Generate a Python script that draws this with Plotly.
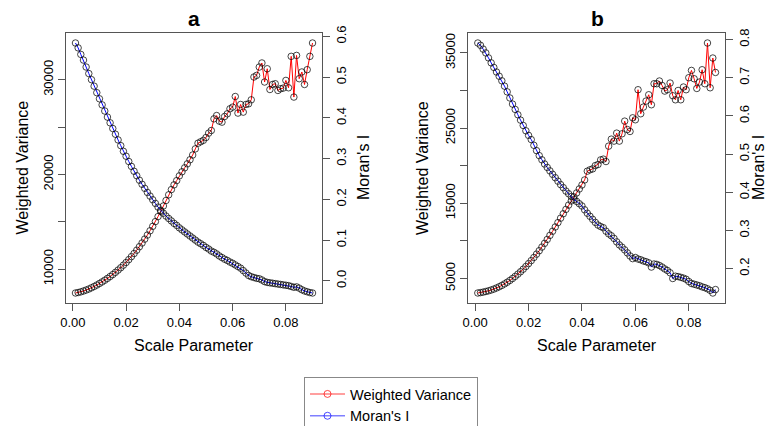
import plotly.graph_objects as go

# ---------------- data ----------------
scale_param = [0.001, 0.002, 0.003, 0.004, 0.005, 0.006, 0.007, 0.008, 0.009, 0.010,
               0.011, 0.012, 0.013, 0.014, 0.015, 0.016, 0.017, 0.018, 0.019, 0.020,
               0.021, 0.022, 0.023, 0.024, 0.025, 0.026, 0.027, 0.028, 0.029, 0.030,
               0.031, 0.032, 0.033, 0.034, 0.035, 0.036, 0.037, 0.038, 0.039, 0.040,
               0.041, 0.042, 0.043, 0.044, 0.045, 0.046, 0.047, 0.048, 0.049, 0.050,
               0.051, 0.052, 0.053, 0.054, 0.055, 0.056, 0.057, 0.058, 0.059, 0.060,
               0.061, 0.062, 0.063, 0.064, 0.065, 0.066, 0.067, 0.068, 0.069, 0.070,
               0.071, 0.072, 0.073, 0.074, 0.075, 0.076, 0.077, 0.078, 0.079, 0.080,
               0.081, 0.082, 0.083, 0.084, 0.085, 0.086, 0.087, 0.088, 0.089, 0.090]

# Panel a
wv_a = [7480, 7530, 7600, 7690, 7790, 7900, 8030, 8170, 8320, 8480,
        8650, 8830, 9020, 9220, 9430, 9660, 9900, 10150, 10420, 10700,
        11000, 11320, 11650, 12000, 12370, 12760, 13170, 13600, 14050, 14520,
        15020, 15550, 16100, 16670, 17250, 17850, 18400, 18900, 19350, 19850,
        20280, 20700, 21120, 21550, 22050, 22700, 23300, 23450, 23600, 23900,
        24360, 24640, 25870, 26220, 25630, 25520, 26120, 26400, 26930, 27110,
        28230, 26480, 27390, 26580, 27390, 27460, 27880, 30290, 30460, 31340,
        31770, 29760, 31160, 28970, 29500, 29580, 28870, 29050, 29120, 29930,
        29150, 32470, 28170, 32570, 30110, 30820, 29500, 31060, 32470, 33880]

mi_a = [0.584, 0.572, 0.556, 0.542, 0.525, 0.509, 0.494, 0.478, 0.462, 0.447,
        0.432, 0.417, 0.402, 0.388, 0.374, 0.360, 0.346, 0.332, 0.318, 0.306,
        0.293, 0.281, 0.269, 0.258, 0.247, 0.237, 0.227, 0.217, 0.208, 0.199,
        0.190, 0.181, 0.173, 0.166, 0.159, 0.153, 0.147, 0.141, 0.136, 0.130,
        0.125, 0.120, 0.115, 0.110, 0.105, 0.100, 0.095, 0.091, 0.087, 0.082,
        0.078, 0.073, 0.070, 0.066, 0.061, 0.057, 0.053, 0.050, 0.046, 0.043,
        0.039, 0.035, 0.031, 0.025, 0.019, 0.013, 0.010, 0.008, 0.006, 0.005,
        0.002, -0.002, -0.004, -0.005, -0.006, -0.007, -0.008, -0.009, -0.010, -0.011,
        -0.012, -0.014, -0.016, -0.015, -0.018, -0.022, -0.025, -0.027, -0.029, -0.030]

# Panel b
wv_b = [3050, 3100, 3170, 3250, 3340, 3450, 3570, 3720, 3880, 4060,
        4260, 4480, 4720, 4980, 5260, 5560, 5880, 6220, 6580, 6960,
        7360, 7780, 8220, 8680, 9160, 9660, 10180, 10720, 11270, 11840,
        12420, 13010, 13600, 14180, 14750, 15300, 15840, 16370, 16900, 17430,
        18100, 19270, 19450, 19570, 20010, 20150, 20770, 20870, 20550, 22600,
        23530, 23270, 24330, 23270, 24240, 25930, 24810, 24550, 26370, 26110,
        30110, 26910, 27800, 28600, 29440, 28110, 30910, 30910, 31270, 30680,
        29930, 30110, 31000, 29310, 28770, 30010, 28770, 30470, 30110, 31710,
        32680, 31570, 30280, 31130, 32770, 30910, 36330, 30370, 34330, 32410]

mi_b = [0.791, 0.785, 0.775, 0.765, 0.752, 0.739, 0.727, 0.715, 0.704, 0.692,
        0.678, 0.663, 0.647, 0.631, 0.617, 0.603, 0.589, 0.575, 0.561, 0.549,
        0.538, 0.523, 0.509, 0.496, 0.485, 0.474, 0.465, 0.456, 0.447, 0.438,
        0.429, 0.420, 0.412, 0.403, 0.396, 0.389, 0.381, 0.376, 0.370, 0.364,
        0.354, 0.345, 0.337, 0.329, 0.321, 0.314, 0.310, 0.307, 0.298, 0.291,
        0.286, 0.279, 0.270, 0.262, 0.256, 0.249, 0.241, 0.233, 0.226, 0.229,
        0.225, 0.223, 0.220, 0.218, 0.215, 0.204, 0.212, 0.211, 0.208, 0.204,
        0.199, 0.195, 0.189, 0.174, 0.180, 0.179, 0.177, 0.175, 0.172, 0.166,
        0.161, 0.159, 0.157, 0.155, 0.152, 0.150, 0.147, 0.143, 0.136, 0.145]

x_ticks = [0.00, 0.02, 0.04, 0.06, 0.08]
x_tick_labels = ["0.00", "0.02", "0.04", "0.06", "0.08"]
wv_a_ticks = [10000, 15000, 20000, 25000, 30000]
wv_a_labels = ["10000", "", "20000", "", "30000"]
mi_a_ticks = [0.0, 0.1, 0.2, 0.3, 0.4, 0.5, 0.6]
mi_a_labels = ["0.0", "0.1", "0.2", "0.3", "0.4", "0.5", "0.6"]
wv_b_ticks = [5000, 10000, 15000, 20000, 25000, 30000, 35000]
wv_b_labels = ["5000", "", "15000", "", "25000", "", "35000"]
mi_b_ticks = [0.2, 0.3, 0.4, 0.5, 0.6, 0.7, 0.8]
mi_b_labels = ["0.2", "0.3", "0.4", "0.5", "0.6", "0.7", "0.8"]

panel_titles = ["a", "b"]
x_title = "Scale Parameter"
y_left_title = "Weighted Variance"
y_right_title = "Moran's I"


def ext(v):
    lo, hi = min(v), max(v)
    d = (hi - lo) * 0.04
    return [lo - d, hi + d]


# ---------------- styling ----------------
W, H = 770, 426
FONT = "Liberation Sans, Arial, sans-serif"
RED = "#FF0000"
BLUE = "#0000FF"
AXC = "#555555"
marker_style = dict(symbol="circle-open", size=6.5, color="rgba(0,0,0,0.72)", line=dict(width=1))

fig = go.Figure()
for xa, ya, vals, col in [("x", "y", wv_a, RED), ("x", "y2", mi_a, BLUE),
                          ("x2", "y3", wv_b, RED), ("x2", "y4", mi_b, BLUE)]:
    fig.add_trace(go.Scatter(x=scale_param, y=vals, xaxis=xa, yaxis=ya,
                             mode="lines+markers", line=dict(color=col, width=1),
                             marker=marker_style, showlegend=False, hoverinfo="skip"))

# legend entries
fig.add_trace(go.Scatter(x=[None], y=[None], name="Weighted Variance", mode="lines+markers",
                         line=dict(color="rgba(255,0,0,0.5)", width=1.5),
                         marker=dict(symbol="circle-open", size=7, color="rgba(255,0,0,0.7)", line=dict(width=1))))
fig.add_trace(go.Scatter(x=[None], y=[None], name="Moran's I", mode="lines+markers",
                         line=dict(color="rgba(0,0,255,0.5)", width=1.5),
                         marker=dict(symbol="circle-open", size=7, color="rgba(0,0,255,0.7)", line=dict(width=1))))

ydom = [1 - 303 / H, 1 - 33 / H]
xdom_a = [66 / W, 322 / W]
xdom_b = [468.3 / W, 725 / W]
tickfont = dict(family=FONT, size=13, color="black")

common_x = dict(range=ext(scale_param), tickvals=x_ticks, ticktext=x_tick_labels,
                ticks="outside", ticklen=7, tickcolor=AXC, showline=True, mirror=True,
                linecolor=AXC, linewidth=1, showgrid=False, zeroline=False, tickfont=tickfont)
common_yl = dict(ticks="outside", ticklen=7, tickcolor=AXC, showline=True, mirror=True,
                 linecolor=AXC, linewidth=1, showgrid=False, zeroline=False,
                 tickangle=-90, tickfont=tickfont, domain=ydom)
common_yr = dict(ticks="outside", ticklen=7, tickcolor=AXC, showline=False,
                 showgrid=False, zeroline=False, side="right",
                 tickangle=-90, tickfont=tickfont)

fig.update_layout(
    width=W, height=H, autosize=False,
    margin=dict(l=0, r=0, t=0, b=0, autoexpand=False),
    paper_bgcolor="white", plot_bgcolor="white",
    font=dict(family=FONT, color="black"),
    xaxis=dict(domain=xdom_a, anchor="y", **common_x),
    xaxis2=dict(domain=xdom_b, anchor="y3", **common_x),
    yaxis=dict(anchor="x", range=ext(wv_a), tickvals=wv_a_ticks, ticktext=wv_a_labels, **common_yl),
    yaxis2=dict(anchor="x", overlaying="y", range=ext(mi_a), tickvals=mi_a_ticks, ticktext=mi_a_labels, **common_yr),
    yaxis3=dict(anchor="x2", range=ext(wv_b), tickvals=wv_b_ticks, ticktext=wv_b_labels, **common_yl),
    yaxis4=dict(anchor="x2", overlaying="y3", range=ext(mi_b), tickvals=mi_b_ticks, ticktext=mi_b_labels, **common_yr),
    legend=dict(x=304 / W, y=1 - 377 / H, xanchor="left", yanchor="top",
                bordercolor="#888888", borderwidth=1, bgcolor="white",
                font=dict(family=FONT, size=14.5, color="black"),
                tracegroupgap=0, itemwidth=35),
    showlegend=True,
)

ann = []
for title, cx, ylx, yrx in [(panel_titles[0], 194, 22.5, 364), (panel_titles[1], 597, 423, 759)]:
    ann.append(dict(text="<b>%s</b>" % title, x=cx / W, y=1 - 19 / H, xref="paper", yref="paper",
                    showarrow=False, xanchor="center", yanchor="middle",
                    font=dict(family=FONT, size=21, color="black")))
    ann.append(dict(text=x_title, x=cx / W, y=1 - 345 / H, xref="paper", yref="paper",
                    showarrow=False, xanchor="center", yanchor="middle",
                    font=dict(family=FONT, size=16, color="black")))
    ann.append(dict(text=y_left_title, x=ylx / W, y=1 - 168 / H, xref="paper", yref="paper",
                    showarrow=False, xanchor="center", yanchor="middle", textangle=-90,
                    font=dict(family=FONT, size=16, color="black")))
    ann.append(dict(text=y_right_title, x=yrx / W, y=1 - 168 / H, xref="paper", yref="paper",
                    showarrow=False, xanchor="center", yanchor="middle", textangle=-90,
                    font=dict(family=FONT, size=16, color="black")))
fig.update_layout(annotations=ann)

fig.write_html("out.html")
